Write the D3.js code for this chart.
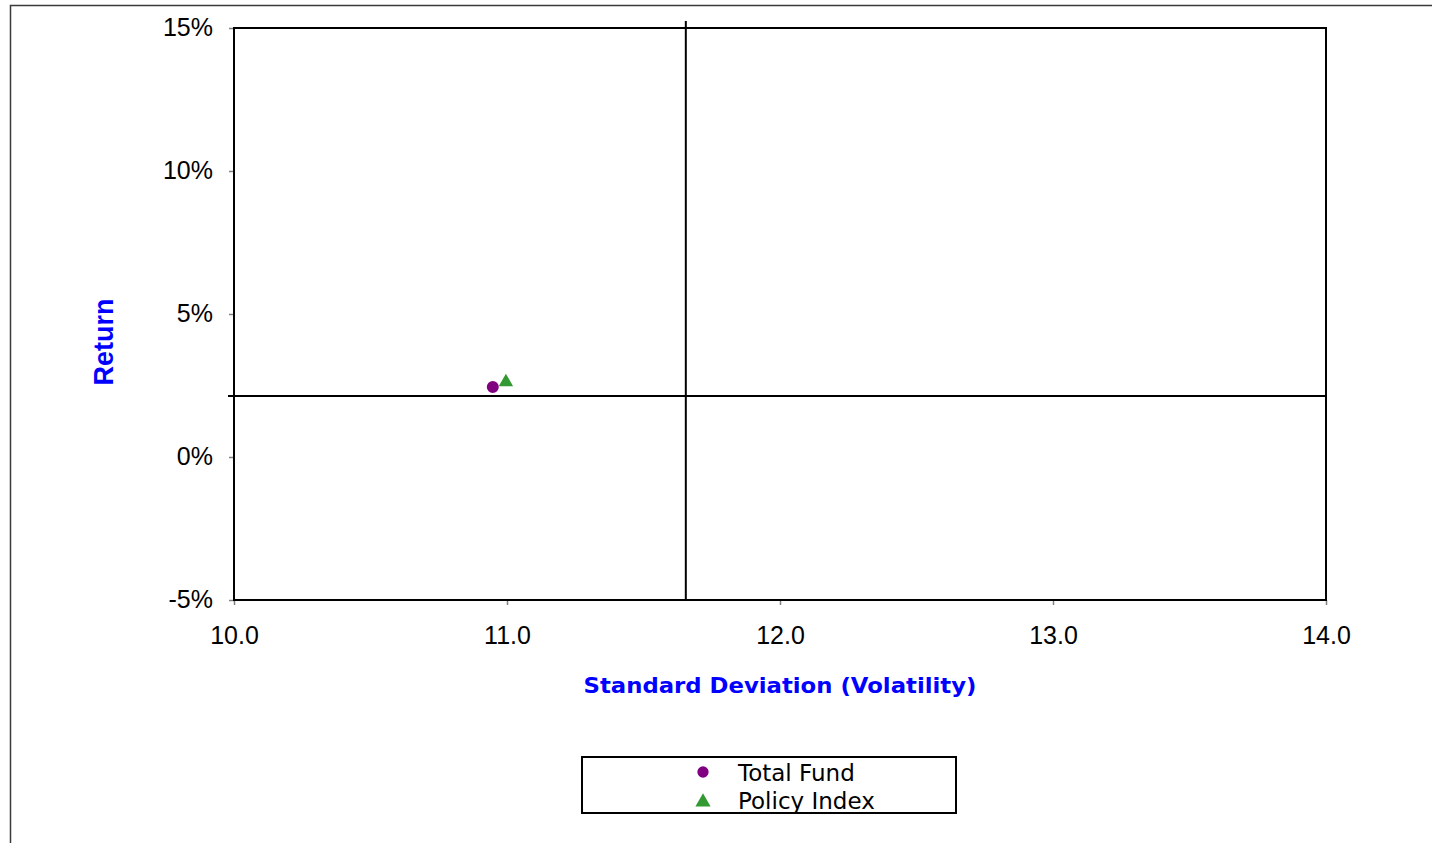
<!DOCTYPE html>
<html><head><meta charset="utf-8">
<script src="https://cdn.jsdelivr.net/npm/d3@7"></script>
<style>body{margin:0;background:#fff;} svg{display:block;}</style>
</head><body>
<svg id="c" width="1432" height="843"></svg>
<script>
// Data
const seriesNames = ["Total Fund", "Policy Index"];
const stdDev = [10.948, 10.996];
const returns = [2.45, 2.62];
const seriesColors = ["#800080", "#339933"];
const seriesShapes = ["circle", "triangle"];
const medianStdDev = [11.655];
const medianReturn = [2.13];
const xTicks = [10, 11, 12, 13, 14];
const yTicks = [-5, 0, 5, 10, 15];

const svg = d3.select("#c");
const L = 234, R = 1326, T = 28, B = 600;
const x = d3.scaleLinear().domain([10, 14]).range([L, R]);
const y = d3.scaleLinear().domain([-5, 15]).range([B, T]);

// outer frame
svg.append("path").attr("d", "M10.5,843 L10.5,5.5 L1432,5.5").attr("fill", "none").attr("stroke", "#3a3a3a").attr("stroke-width", 1.5);

// axes
const yAxis = d3.axisLeft(y).tickValues(yTicks).tickFormat(d => d + "%").tickSize(5).tickPadding(16);
const gy = svg.append("g").attr("transform", `translate(${L},0)`).call(yAxis);
gy.select(".domain").remove();
gy.selectAll("line").attr("stroke", "#808080").attr("stroke-width", 1.5);
gy.selectAll("text").attr("font-family", "Arial, 'Liberation Sans', sans-serif").attr("font-size", 25).attr("fill", "#000").attr("dy", "0.28em");

const xAxis = d3.axisBottom(x).tickValues(xTicks).tickFormat(d3.format(".1f")).tickSize(5).tickPadding(21);
const gx = svg.append("g").attr("transform", `translate(0,${B})`).call(xAxis);
gx.select(".domain").remove();
gx.selectAll("line").attr("stroke", "#808080").attr("stroke-width", 1.5);
gx.selectAll("text").attr("font-family", "Arial, 'Liberation Sans', sans-serif").attr("font-size", 25).attr("fill", "#000").attr("dy", "0.71em");

// plot frame
svg.append("rect").attr("x", L).attr("y", T).attr("width", R - L).attr("height", B - T)
  .attr("fill", "none").attr("stroke", "#000").attr("stroke-width", 2);

// quadrant lines
svg.selectAll(".vl").data(medianStdDev).enter().append("line")
  .attr("x1", d => x(d)).attr("x2", d => x(d)).attr("y1", T - 7).attr("y2", B)
  .attr("stroke", "#000").attr("stroke-width", 2);
svg.selectAll(".hl").data(medianReturn).enter().append("line")
  .attr("x1", L - 6).attr("x2", R).attr("y1", d => y(d)).attr("y2", d => y(d))
  .attr("stroke", "#000").attr("stroke-width", 2);

// points
const sym = s => s === "circle" ? d3.symbol(d3.symbolCircle, 113) : d3.symbol(d3.symbolTriangle, 90);
const pts = seriesNames.map((n, i) => ({n, sx: stdDev[i], r: returns[i], c: seriesColors[i], s: seriesShapes[i]}));
svg.selectAll(".pt").data(pts).enter().append("path")
  .attr("transform", d => `translate(${x(d.sx)},${y(d.r)})`)
  .attr("d", d => sym(d.s)()).attr("fill", d => d.c);

// axis titles
svg.append("text").attr("x", (L + R) / 2).attr("y", 693).attr("text-anchor", "middle")
  .attr("font-family", "'DejaVu Sans', Verdana, sans-serif").attr("font-weight", "bold").attr("font-size", 22)
  .attr("fill", "#0000ff").attr("textLength", 393).attr("lengthAdjust", "spacingAndGlyphs")
  .text("Standard Deviation (Volatility)");
svg.append("text").attr("transform", "translate(113,342) rotate(-90)").attr("text-anchor", "middle")
  .attr("font-family", "Arial, 'Liberation Sans', sans-serif").attr("font-weight", "bold").attr("font-size", 27)
  .attr("fill", "#0000ff").text("Return");

// legend
const lg = svg.append("g");
lg.append("defs").append("clipPath").attr("id", "lc").append("rect").attr("x", 582).attr("y", 757).attr("width", 374).attr("height", 56);
lg.append("rect").attr("x", 582).attr("y", 757).attr("width", 374).attr("height", 56).attr("fill", "#fff").attr("stroke", "#000").attr("stroke-width", 2);
const li = lg.selectAll(".li").data(pts).enter().append("g").attr("clip-path", "url(#lc)");
li.append("path").attr("transform", (d, i) => `translate(703,${772 + i * 30})`)
  .attr("d", d => d.s === "circle" ? d3.symbol(d3.symbolCircle, 100)() : d3.symbol(d3.symbolTriangle, 100)())
  .attr("fill", d => d.c);
li.append("text").attr("x", 738).attr("y", (d, i) => 781 + i * 28)
  .attr("font-family", "'DejaVu Sans', Verdana, sans-serif").attr("font-size", 23).attr("fill", "#000")
  .text(d => d.n);
</script>
</body></html>
